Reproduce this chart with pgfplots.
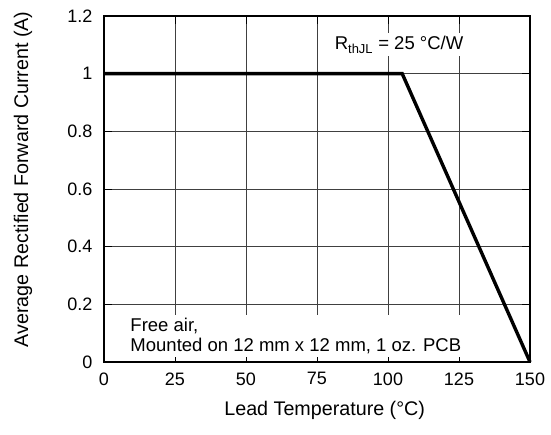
\documentclass[border=0pt]{standalone}
\usepackage{fontspec}
\setmainfont{Liberation Sans}
\usepackage{pgfplots}
\pgfplotsset{compat=1.18}
\pgfplotsset{
  layers/mylayers/.define layer set={axis background,axis grid,pre main,axis ticks,axis lines,axis tick labels,main,axis descriptions,axis foreground}{},
}
\begin{document}
\begin{tikzpicture}
\begin{axis}[
  set layers=mylayers,
  scale only axis,
  width=426pt, height=346pt,
  xmin=0, xmax=150, ymin=0, ymax=1.2,
  xtick={0,25,50,75,100,125,150},
  ytick={0,0.2,0.4,0.6,0.8,1,1.2},
  yticklabels={0,0.2,0.4,0.6,0.8,1,1.2},
  /pgf/number format/assume math mode=true,
  tick align=inside,
  major tick length=8pt,
  tick style={black, line width=0.9pt},
  grid=major,
  grid style={black!75, line width=0.8pt},
  axis line style={black, line width=2.6pt},
  ticklabel style={font=\fontsize{18}{20}\selectfont},
  xticklabel style={yshift=-7pt},
  yticklabel style={xshift=-8pt},
  xlabel={Lead Temperature (°C)},
  ylabel={Average Rectified Forward Current (A)},
  label style={font=\fontsize{19.7}{22}\selectfont},
  xlabel style={at={(axis description cs:0.518,-0.139)}, anchor=center},
  ylabel style={at={(axis description cs:-0.19,0.528)}, anchor=center},
  clip=false,
]
\addplot[black, line width=3.4pt, line join=miter, mark=none] coordinates {(0,1) (105,1) (150,0)};
\node[on layer=pre main, fill=white, inner sep=3pt, font=\fontsize{18.5}{20}\selectfont, anchor=center]
  at (axis cs:103.9,1.10) {R\textsubscript{thJL} = 25 °C/W};
\node[on layer=pre main, fill=white, inner sep=3pt, align=left, anchor=west, font=\fontsize{18.5}{20}\selectfont]
  at (axis cs:8.2,0.09) {Free air,\\Mounted on 12 mm x 12 mm, 1 oz. PCB};
\coordinate (sw) at (rel axis cs:0,0);
\coordinate (ne) at (rel axis cs:1,1);
\end{axis}
\pgfresetboundingbox
\path ([shift={(-104pt,-73pt)}]sw) rectangle ([shift={(21pt,16pt)}]ne);
\end{tikzpicture}
\end{document}
